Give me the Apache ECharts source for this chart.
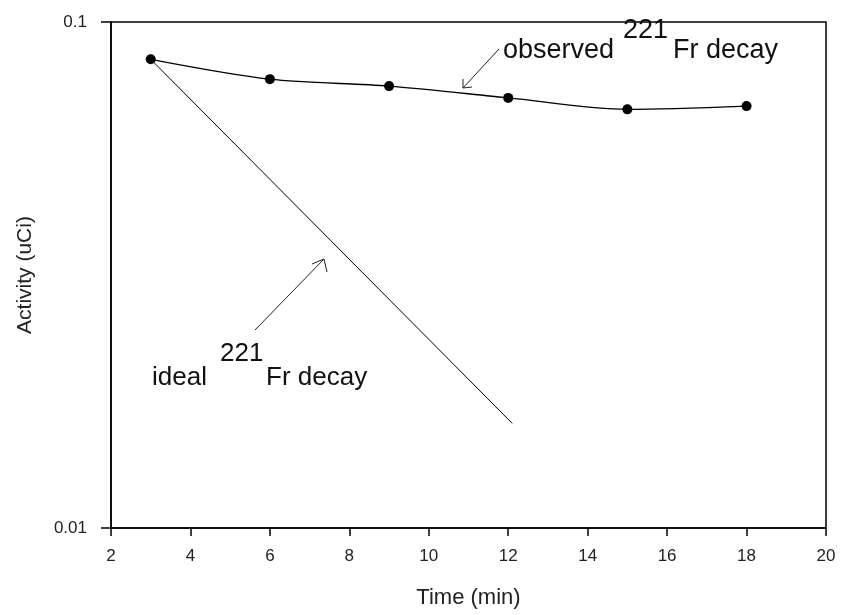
<!DOCTYPE html>
<html><head><meta charset="utf-8">
<script src="https://cdn.jsdelivr.net/npm/echarts@6/dist/echarts.min.js"></script>
<style>html,body{margin:0;padding:0;background:#fff}#c{width:845px;height:615px}</style>
</head><body><div id="c"></div>
<script>
const obsTime = [3, 6, 9, 12, 15, 18];
const obsActivity = [0.0844, 0.0771, 0.0747, 0.0708, 0.0672, 0.0682];
const idealTime = [3, 12.1];
const idealActivity = [0.0844, 0.0161];
const xTicks = [2, 4, 6, 8, 10, 12, 14, 16, 18, 20];
const yTicks = [0.01, 0.1];

const FONT = '"Liberation Sans",Arial,sans-serif';
const chart = echarts.init(document.getElementById('c'));
chart.setOption({
  animation: false,
  backgroundColor: '#fff',
  grid: {left: 111, right: 19, top: 22, bottom: 87, containLabel: false, outerBoundsMode: 'none',
    show: true, borderColor: '#000', borderWidth: 1.5, backgroundColor: 'transparent'},
  xAxis: {
    type: 'value', min: xTicks[0], max: xTicks[xTicks.length - 1], interval: 2,
    name: 'Time (min)', nameLocation: 'middle', nameGap: 59,
    nameTextStyle: {fontFamily: FONT, fontSize: 22, color: '#222'},
    axisLine: {lineStyle: {color: '#000', width: 1.5}},
    axisTick: {inside: false, length: 8, lineStyle: {color: '#000', width: 1.5}},
    axisLabel: {fontFamily: FONT, fontSize: 17, color: '#222', margin: 20},
    splitLine: {show: false}
  },
  yAxis: {
    type: 'log', logBase: 10, min: yTicks[0], max: yTicks[1],
    name: 'Activity (uCi)', nameLocation: 'middle', nameGap: 75, nameRotate: 90,
    nameTextStyle: {fontFamily: FONT, fontSize: 21, color: '#222'},
    axisLine: {lineStyle: {color: '#000', width: 1.5}},
    axisTick: {inside: false, length: 10, lineStyle: {color: '#000', width: 1.5}},
    minorTick: {show: false},
    axisLabel: {fontFamily: FONT, fontSize: 17, color: '#222', margin: 24,
      formatter: v => (Math.abs(v - 0.1) < 1e-9 ? '0.1' : Math.abs(v - 0.01) < 1e-9 ? '0.01' : '')},
    splitLine: {show: false}
  },
  series: [
    {
      type: 'line', data: idealTime.map((t, i) => [t, idealActivity[i]]),
      showSymbol: false, symbol: 'none',
      lineStyle: {color: '#000', width: 1}, z: 2
    },
    {
      type: 'line', data: obsTime.map((t, i) => [t, obsActivity[i]]),
      smooth: 0.3, symbol: 'circle', symbolSize: 10,
      itemStyle: {color: '#000'},
      lineStyle: {color: '#000', width: 1.3}, z: 3
    }
  ],
  graphic: [
    {type: 'text', left: 503, top: 37, style: {text: 'observed', font: '27px ' + FONT, fill: '#111'}},
    {type: 'text', left: 623, top: 17, style: {text: '221', font: '27px ' + FONT, fill: '#111'}},
    {type: 'text', left: 673, top: 37, style: {text: 'Fr decay', font: '27px ' + FONT, fill: '#111'}},
    {type: 'line', shape: {x1: 499, y1: 49, x2: 463, y2: 88}, style: {stroke: '#222', lineWidth: 1}},
    {type: 'polyline', shape: {points: [[463, 79], [463, 88], [472, 87]]}, style: {stroke: '#222', lineWidth: 1, fill: null}},
    {type: 'text', left: 152, top: 365, style: {text: 'ideal', font: '26px ' + FONT, fill: '#111'}},
    {type: 'text', left: 220, top: 341, style: {text: '221', font: '26px ' + FONT, fill: '#111'}},
    {type: 'text', left: 266, top: 365, style: {text: 'Fr decay', font: '26px ' + FONT, fill: '#111'}},
    {type: 'line', shape: {x1: 255, y1: 330, x2: 324, y2: 259}, style: {stroke: '#222', lineWidth: 1}},
    {type: 'polyline', shape: {points: [[312, 264], [324, 259], [327, 272]]}, style: {stroke: '#222', lineWidth: 1, fill: null}}
  ]
});
</script></body></html>
